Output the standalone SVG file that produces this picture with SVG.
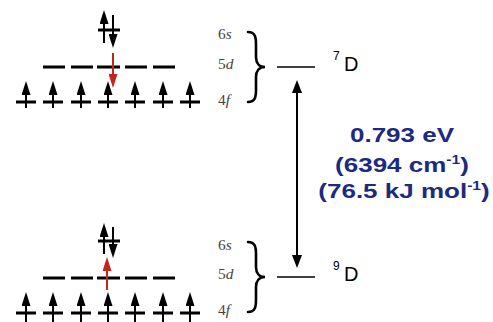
<svg xmlns="http://www.w3.org/2000/svg" width="493" height="322" viewBox="0 0 493 322">
<defs>
<style>
.orb{stroke:#000;stroke-width:3;fill:none}
.sh{stroke:#000;stroke-width:2;fill:none}
.shr{stroke:#c0281b;stroke-width:2;fill:none}
.lbl{font-family:"Liberation Serif",serif;font-size:14px;fill:#444}
.lbl tspan.i{font-style:italic}
.brace{stroke:#000;stroke-width:2.6;fill:none;stroke-linecap:round}
.lvl{stroke:#000;stroke-width:1.6}
.term{font-family:"Liberation Sans",Arial,sans-serif;fill:#000}
.en{font-family:"Liberation Sans",Arial,sans-serif;font-weight:bold;font-size:20px;fill:#1c2a7f;text-anchor:middle}
</style>
<marker id="ah" viewBox="0 0 14 9" refX="4" refY="4.5" markerWidth="14" markerHeight="9" markerUnits="userSpaceOnUse" orient="auto-start-reverse">
<path d="M0,0 L14,4.5 L0,9 z" fill="#000"/>
</marker>
<marker id="ahr" viewBox="0 0 14 9" refX="4" refY="4.5" markerWidth="14" markerHeight="9" markerUnits="userSpaceOnUse" orient="auto-start-reverse">
<path d="M0,0 L14,4.5 L0,9 z" fill="#c0281b"/>
</marker>
<marker id="big" viewBox="0 0 13 10" refX="3" refY="5" markerWidth="13" markerHeight="10" markerUnits="userSpaceOnUse" orient="auto-start-reverse">
<path d="M0,0 L13,5 L0,10 z" fill="#000"/>
</marker>
</defs>
<rect width="493" height="322" fill="#fff"/>

<g id="config-7D">
<path class="orb" d="M98,30H120"/>
<path class="sh" d="M104,43V20" marker-end="url(#ah)"/>
<path class="sh" d="M113,15V38" marker-end="url(#ah)"/>
<path class="orb" d="M43,67H65M71,67H93M97,67H120M125,67H147M153,67H175"/>
<path class="shr" d="M113,53V78" marker-end="url(#ahr)"/>
<path class="orb" d="M16,102H36M43,102H63M71,102H91M98,102H118M125,102H145M153,102H173M180,102H200"/>
<path class="sh" d="M26,108V91" marker-end="url(#ah)"/>
<path class="sh" d="M53,108V91" marker-end="url(#ah)"/>
<path class="sh" d="M81,108V91" marker-end="url(#ah)"/>
<path class="sh" d="M108,108V91" marker-end="url(#ah)"/>
<path class="sh" d="M135,108V91" marker-end="url(#ah)"/>
<path class="sh" d="M163,108V91" marker-end="url(#ah)"/>
<path class="sh" d="M190,108V91" marker-end="url(#ah)"/>
</g>

<g id="config-9D">
<path class="orb" d="M98,241H120"/>
<path class="sh" d="M104,254V233" marker-end="url(#ah)"/>
<path class="sh" d="M113,227V248" marker-end="url(#ah)"/>
<path class="orb" d="M43,278H65M71,278H93M97,278H120M125,278H147M153,278H175"/>
<path class="shr" d="M107,290V267" marker-end="url(#ahr)"/>
<path class="orb" d="M16,313H36M43,313H63M71,313H91M98,313H118M125,313H145M153,313H173M180,313H200"/>
<path class="sh" d="M26,322V302" marker-end="url(#ah)"/>
<path class="sh" d="M53,322V302" marker-end="url(#ah)"/>
<path class="sh" d="M81,322V302" marker-end="url(#ah)"/>
<path class="sh" d="M108,322V302" marker-end="url(#ah)"/>
<path class="sh" d="M135,322V302" marker-end="url(#ah)"/>
<path class="sh" d="M163,322V302" marker-end="url(#ah)"/>
<path class="sh" d="M190,322V302" marker-end="url(#ah)"/>
</g>

<g id="labels-7D">
<text class="lbl" transform="translate(218,39) scale(1.1,1)">6<tspan class="i">s</tspan></text>
<text class="lbl" transform="translate(218,69) scale(1.1,1)">5<tspan class="i">d</tspan></text>
<text class="lbl" transform="translate(218,105) scale(1.1,1)">4<tspan class="i">f</tspan></text>
<path class="brace" d="M248,32C255,32 256,37 256,44V57C256,63 259,67 265,67C259,67 256,71 256,77V90C256,97 255,102 248,102"/>
</g>

<g id="labels-9D">
<text class="lbl" transform="translate(218,250) scale(1.1,1)">6<tspan class="i">s</tspan></text>
<text class="lbl" transform="translate(218,279) scale(1.1,1)">5<tspan class="i">d</tspan></text>
<text class="lbl" transform="translate(218,315) scale(1.1,1)">4<tspan class="i">f</tspan></text>
<path class="brace" d="M248,242C255,242 256,247 256,254V267C256,273 259,277 265,277C259,277 256,281 256,287V300C256,307 255,312 248,312"/>
</g>

<g id="level-7D">
<path class="lvl" d="M277,67H315"/>
<text class="term" x="333" y="60" font-size="12">7</text>
<text class="term" x="344" y="71" font-size="20">D</text>
</g>

<g id="level-9D">
<path class="lvl" d="M277,277H315"/>
<text class="term" x="333" y="270" font-size="12">9</text>
<text class="term" x="344" y="281" font-size="20">D</text>
</g>

<g id="connectors">
<path class="sh" d="M297,90V258" stroke-width="1.6" marker-start="url(#big)" marker-end="url(#big)"/>
</g>

<g id="energy-label">
<text class="en" transform="translate(402,142) scale(1.3,1)">0.793 eV</text>
<text class="en" transform="translate(402,172) scale(1.3,1)">(6394 cm<tspan font-size="12" dy="-8">-1</tspan><tspan dy="8">)</tspan></text>
<text class="en" transform="translate(404,198) scale(1.3,1)">(76.5 kJ mol<tspan font-size="12" dy="-8">-1</tspan><tspan dy="8">)</tspan></text>
</g>
</svg>
